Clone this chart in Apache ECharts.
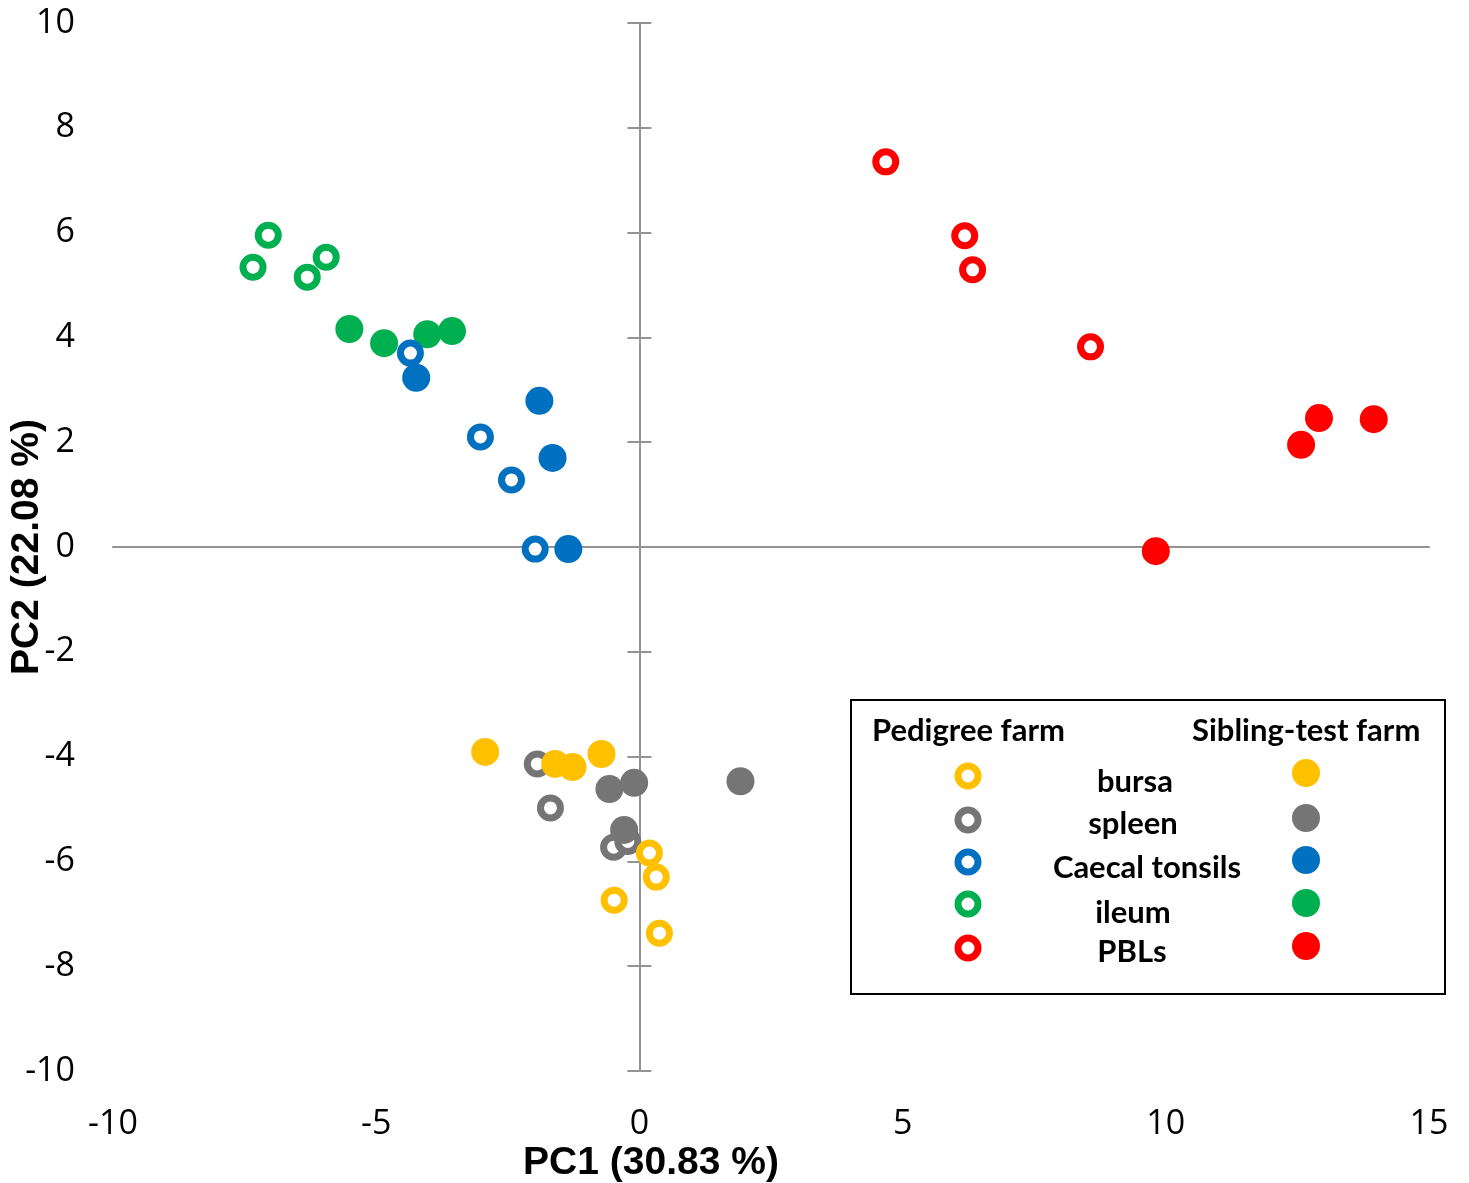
<!DOCTYPE html>
<html>
<head>
<meta charset="utf-8">
<script src="https://cdn.jsdelivr.net/npm/echarts@6/dist/echarts.min.js"></script>
<style>
html,body{margin:0;padding:0;background:#fff;}
#chart{width:1469px;height:1183px;}
</style>
</head>
<body>
<div id="chart"></div>
<script>
// ---- data ----
const xTicks = [-10, -5, 0, 5, 10, 15];
const yTicks = [-10, -8, -6, -4, -2, 0, 2, 4, 6, 8, 10];
const tissueNames = ['bursa', 'spleen', 'Caecal tonsils', 'ileum', 'PBLs'];
const farmNames = ['Pedigree farm', 'Sibling-test farm'];
const xTitle = 'PC1 (30.83 %)';
const yTitle = 'PC2 (22.08 %)';

const bursaPedigree = [[0.19, -5.84], [0.32, -6.30], [-0.48, -6.74], [0.38, -7.37]];
const bursaSibling = [[-2.93, -3.91], [-1.60, -4.14], [-1.27, -4.20], [-0.72, -3.95]];
const spleenPedigree = [[-1.94, -4.14], [-1.69, -4.98], [-0.49, -5.73], [-0.22, -5.62]];
const spleenSibling = [[-0.57, -4.62], [-0.10, -4.50], [1.92, -4.47], [-0.29, -5.40]];
const caecalPedigree = [[-4.35, 3.70], [-3.02, 2.10], [-2.43, 1.28], [-1.98, -0.04]];
const caecalSibling = [[-4.24, 3.23], [-1.90, 2.79], [-1.65, 1.70], [-1.35, -0.04]];
const ileumPedigree = [[-7.05, 5.95], [-7.34, 5.34], [-6.31, 5.15], [-5.95, 5.53]];
const ileumSibling = [[-5.51, 4.16], [-4.85, 3.89], [-4.03, 4.06], [-3.56, 4.12]];
const pblPedigree = [[4.68, 7.35], [6.18, 5.94], [6.33, 5.29], [8.57, 3.82]];
const pblSibling = [[9.81, -0.08], [12.57, 1.95], [12.91, 2.46], [13.95, 2.44]];

const tissueColors = ['#FFC000', '#757575', '#0070C0', '#00B050', '#FF0000'];

// ---- build ----
function openSeries(name, data, color) {
  return {
    name: name, type: 'scatter', xAxisIndex: 0, yAxisIndex: 0, data: data,
    symbol: 'circle', symbolSize: 20,
    itemStyle: { color: '#ffffff', borderColor: color, borderWidth: 7, opacity: 1 },
    emphasis: { disabled: true }, z: 3
  };
}
function filledSeries(name, data, color) {
  return {
    name: name, type: 'scatter', xAxisIndex: 0, yAxisIndex: 0, data: data,
    symbol: 'circle', symbolSize: 28,
    itemStyle: { color: color, opacity: 1 },
    emphasis: { disabled: true }, z: 3
  };
}

const series = [
  filledSeries('ileum (Sibling-test farm)', ileumSibling, tissueColors[3]),
  openSeries('ileum (Pedigree farm)', ileumPedigree, tissueColors[3]),
  filledSeries('Caecal tonsils (Sibling-test farm)', caecalSibling, tissueColors[2]),
  openSeries('Caecal tonsils (Pedigree farm)', caecalPedigree, tissueColors[2]),
  openSeries('spleen (Pedigree farm)', spleenPedigree, tissueColors[1]),
  filledSeries('spleen (Sibling-test farm)', spleenSibling, tissueColors[1]),
  filledSeries('bursa (Sibling-test farm)', bursaSibling, tissueColors[0]),
  openSeries('bursa (Pedigree farm)', bursaPedigree, tissueColors[0]),
  openSeries('PBLs (Pedigree farm)', pblPedigree, tissueColors[4]),
  filledSeries('PBLs (Sibling-test farm)', pblSibling, tissueColors[4])
];

const axisGray = '#939393';
const tickFont = { fontFamily: '"Open Sans", "Liberation Sans", sans-serif', fontSize: 34, color: '#000' };
const titleFont = { fontFamily: '"Liberation Sans", Arial, sans-serif', fontSize: 39, fontWeight: 'bold', color: '#000' };

const xMin = xTicks[0], xMax = xTicks[xTicks.length - 1];
const yMin = yTicks[0], yMax = yTicks[yTicks.length - 1];
const xStep = xTicks[1] - xTicks[0];
const yStep = yTicks[1] - yTicks[0];

// legend (graphic)
const legLeft = 850, legTop = 699, legW = 594, legH = 294;
const leftIconX = 968, rightIconX = 1306;
const leftIconY = [776, 820, 862, 904, 948];
const rightIconY = [773, 818, 860, 903, 946];
const labelX = [1135, 1133, 1147, 1133, 1132];
const labelY = [782, 824, 868, 913, 952];
const legFont = '"Lato", "Open Sans", sans-serif';

const graphics = [
  { type: 'rect', left: legLeft, top: legTop, shape: { width: legW, height: legH },
    style: { fill: '#fff', stroke: '#000', lineWidth: 2 }, z: 10 },
  { type: 'text', x: 872, y: 731, style: { text: farmNames[0], font: 'bold 31px ' + legFont, fill: '#000', textVerticalAlign: 'middle' }, z: 11 },
  { type: 'text', x: 1192, y: 731, style: { text: farmNames[1], font: 'bold 31px ' + legFont, fill: '#000', textVerticalAlign: 'middle' }, z: 11 }
];
tissueNames.forEach(function (t, i) {
  graphics.push({ type: 'circle', shape: { cx: leftIconX, cy: leftIconY[i], r: 10 },
    style: { fill: '#fff', stroke: tissueColors[i], lineWidth: 7 }, z: 11 });
  graphics.push({ type: 'circle', shape: { cx: rightIconX, cy: rightIconY[i], r: 14 },
    style: { fill: tissueColors[i] }, z: 11 });
  graphics.push({ type: 'text', x: labelX[i], y: labelY[i],
    style: { text: t, font: 'bold 31px ' + legFont, fill: '#000', textAlign: 'center', textVerticalAlign: 'middle' }, z: 11 });
});

const chart = echarts.init(document.getElementById('chart'), null, { renderer: 'canvas' });
chart.setOption({
  animation: false,
  backgroundColor: '#fff',
  grid: { left: 113, top: 23, width: 1316, height: 1048, containLabel: false, outerBoundsMode: 'none' },
  xAxis: [
    { type: 'value', position: 'bottom', min: xMin, max: xMax, interval: xStep,
      axisLine: { show: false, onZero: false }, axisTick: { show: false }, splitLine: { show: false },
      axisLabel: Object.assign({ margin: 36 }, tickFont),
      name: xTitle, nameLocation: 'middle', nameGap: 73, nameMoveOverlap: false,
      nameTextStyle: Object.assign({ padding: [0, 240, 0, 0] }, titleFont) },
    { type: 'value', position: 'bottom', min: xMin, max: xMax, interval: xStep,
      axisLine: { show: true, onZero: true, onZeroAxisIndex: 0, lineStyle: { color: axisGray, width: 2 } },
      axisTick: { show: false }, axisLabel: { show: false }, splitLine: { show: false } }
  ],
  yAxis: [
    { type: 'value', position: 'left', min: yMin, max: yMax, interval: yStep,
      axisLine: { show: false, onZero: false }, axisTick: { show: false }, splitLine: { show: false },
      axisLabel: Object.assign({ margin: 38 }, tickFont),
      name: yTitle, nameLocation: 'middle', nameGap: 66, nameRotate: 90, nameMoveOverlap: false,
      nameTextStyle: titleFont },
    { type: 'value', position: 'left', min: yMin, max: yMax, interval: yStep,
      axisLine: { show: true, onZero: true, onZeroAxisIndex: 0, lineStyle: { color: axisGray, width: 2 } },
      axisTick: { show: true, inside: false, length: 12, lineStyle: { color: axisGray, width: 2 } },
      axisLabel: { show: false }, splitLine: { show: false } },
    { type: 'value', position: 'right', min: yMin, max: yMax, interval: yStep,
      axisLine: { show: true, onZero: true, onZeroAxisIndex: 0, lineStyle: { color: axisGray, width: 2 } },
      axisTick: { show: true, inside: false, length: 12, lineStyle: { color: axisGray, width: 2 } },
      axisLabel: { show: false }, splitLine: { show: false } }
  ],
  series: series,
  graphic: graphics
});
</script>
</body>
</html>
